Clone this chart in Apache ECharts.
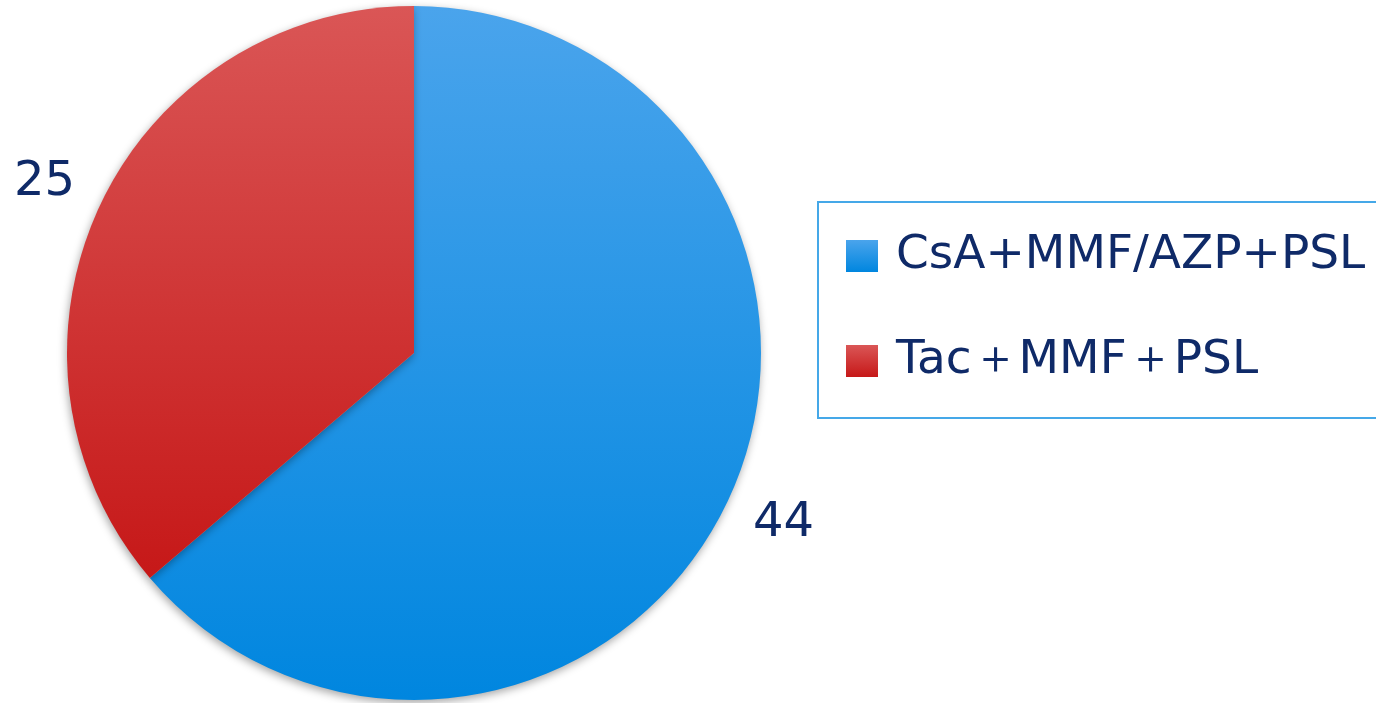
<!DOCTYPE html>
<html><head><meta charset="utf-8">
<script src="https://cdn.jsdelivr.net/npm/echarts@6/dist/echarts.min.js"></script>
<style>html,body{margin:0;padding:0;background:#fff}#c{width:1376px;height:703px}</style>
</head><body><div id="c"></div>
<script>
const categories = ['CsA+MMF/AZP+PSL', 'Tac＋MMF＋PSL'];
const values = [44, 25];
const topColors = ['#4aa4ec', '#da5656'];
const bottomColors = ['#0086df', '#c61818'];

const chart = echarts.init(document.getElementById('c'));
const grad = i => new echarts.graphic.LinearGradient(0, 0, 0, 1, [
  { offset: 0, color: topColors[i] }, { offset: 1, color: bottomColors[i] }]);
const txt = '#0f2a68';
const font = 'DejaVu Sans, Verdana, sans-serif';

const pieData = categories.map((n, i) => ({ name: n, value: values[i], itemStyle: { color: grad(i) } }));
const labelData = categories.map((n, i) => ({ name: n, value: values[i] }));

chart.setOption({
  animation: false,
  legend: {
    orient: 'vertical', left: 818, top: 202,
    padding: [28, 40, 31, 28],
    borderColor: '#45a8e8', borderWidth: 2,
    itemWidth: 32, itemHeight: 32, itemGap: 53,
    icon: 'rect',
    data: categories,
    textStyle: { fontSize: 47, color: txt, fontFamily: font, lineHeight: 52, padding: [0, 0, 0, 13] }
  },
  series: [{
    type: 'pie', center: [414, 353], radius: [0, 347],
    startAngle: 90, clockwise: true,
    label: { show: false }, labelLine: { show: false },
    itemStyle: { shadowBlur: 8, shadowOffsetY: 3, shadowOffsetX: -1, shadowColor: 'rgba(0,0,0,0.35)' },
    emphasis: { disabled: true },
    data: pieData
  }, {
    type: 'pie', center: [414, 353], radius: [386, 422],
    startAngle: 90, clockwise: true, silent: true,
    legendHoverLink: false,
    itemStyle: { color: 'rgba(0,0,0,0)' },
    label: { show: true, position: 'inside', formatter: '{c}', fontSize: 48, color: txt, fontFamily: font },
    labelLine: { show: false },
    emphasis: { disabled: true },
    data: labelData
  }]
});
</script></body></html>
